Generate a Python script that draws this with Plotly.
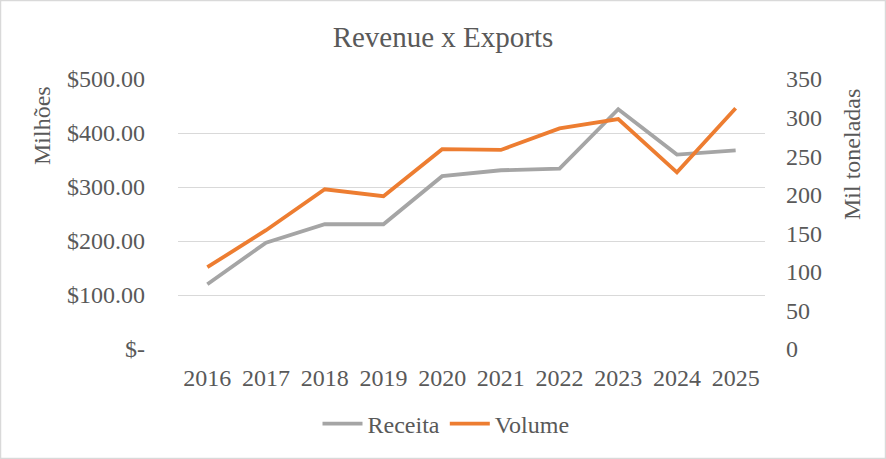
import plotly.graph_objects as go

years = ['2016', '2017', '2018', '2019', '2020', '2021', '2022', '2023', '2024', '2025']
receita = [120, 197, 231, 231, 320, 331, 334, 444, 360, 368]   # milhoes
volume = [106, 154, 207, 198, 259, 258, 286, 298, 229, 312]    # mil toneladas

left_ticks = [0, 100, 200, 300, 400, 500]
left_labels = ['$-', '$100.00', '$200.00', '$300.00', '$400.00', '$500.00']
right_ticks = [0, 50, 100, 150, 200, 250, 300, 350]

W, H = 886, 459
ml, mr, mt, mb = 178, 121, 79, 110
pw, ph = W - ml - mr, H - mt - mb

font = '"Liberation Serif", "Times New Roman", Times, serif'
txt = '#595959'
tf = dict(size=24, color=txt, family=font)

fig = go.Figure()

fig.add_trace(go.Scatter(
    x=years, y=receita, name='Receita', mode='lines',
    line=dict(color='#A5A5A5', width=3.8),
    yaxis='y'
))
fig.add_trace(go.Scatter(
    x=years, y=volume, name='Volume', mode='lines',
    line=dict(color='#ED7D31', width=3.8),
    yaxis='y2'
))

fig.update_layout(
    width=W, height=H,
    margin=dict(l=ml, r=mr, t=mt, b=mb),
    paper_bgcolor='white', plot_bgcolor='white',
    font=tf,
    title=dict(text='Revenue x Exports', x=0.5, xanchor='center',
               y=1 - 37 / H, yanchor='middle',
               font=dict(size=29, color=txt, family=font)),
    xaxis=dict(type='category', range=[-0.5, 9.5], showgrid=False,
               showline=False, ticks='', zeroline=False,
               tickfont=tf, ticklabelstandoff=12),
    yaxis=dict(range=[0, 500], tickvals=left_ticks, ticktext=left_labels,
               showgrid=True, gridcolor='#D9D9D9', gridwidth=1.3,
               zeroline=False, showline=False, ticks='',
               tickfont=tf, ticklabelstandoff=32),
    yaxis2=dict(range=[0, 350], tickvals=right_ticks, overlaying='y',
                side='right', showgrid=False, zeroline=False,
                showline=False, ticks='', tickfont=tf,
                ticklabelstandoff=20),
    legend=dict(orientation='h', x=(446 - ml) / pw, xanchor='center',
                y=(ph - (424 - mt)) / ph, yanchor='middle',
                font=tf, itemwidth=40),
    showlegend=True,
)

# axis titles
fig.add_annotation(text='Milhões', textangle=-90, xref='paper', yref='paper',
                   x=(42 - ml) / pw, y=(ph - (126 - mt)) / ph,
                   xanchor='center', yanchor='middle',
                   showarrow=False, font=tf)
fig.add_annotation(text='Mil toneladas', textangle=-90, xref='paper', yref='paper',
                   x=(852 - ml) / pw, y=(ph - (155 - mt)) / ph,
                   xanchor='center', yanchor='middle',
                   showarrow=False, font=tf)

# chart border
fig.add_shape(type='rect', xref='paper', yref='paper',
              x0=(0.5 - ml) / pw, x1=(W - 0.5 - ml) / pw,
              y0=-(mb - 0.5) / ph, y1=1 + (mt - 0.5) / ph,
              line=dict(color='#D9D9D9', width=1.5))

fig.write_html('out.html', config={'displayModeBar': False},
               post_script="document.body.style.margin='0';")
